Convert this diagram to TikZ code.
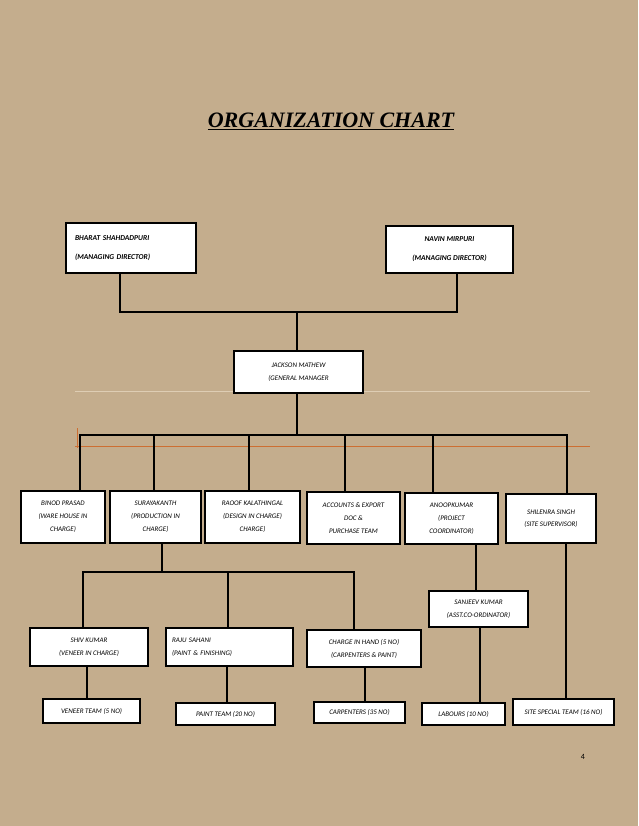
\documentclass[tikz,border=0pt]{standalone}
\usepackage{fontspec}
\setmainfont{Carlito}
\newfontfamily\titlefont{Liberation Serif}
\usepackage{tikz}
\usetikzlibrary{positioning}
\definecolor{paper}{RGB}{196,173,141}
\definecolor{rulecream}{RGB}{222,205,180}
\definecolor{ruleorange}{RGB}{205,110,50}
\tikzset{
  post/.style={draw=black,line width=2pt,fill=white,inner sep=1pt,align=center,
    font=\fontsize{7}{13}\selectfont\itshape},
  link/.style={black,line width=2.8pt}
}

\begin{document}
\begin{tikzpicture}[x=1pt,y=-1pt]
          \fill[paper] (0,0) rectangle (638,826);
          \useasboundingbox (0,0) rectangle (638,826);

          % title
          \node[font=\titlefont\fontsize{22}{22}\selectfont\bfseries\itshape] (title) at (331,121) {\underline{ORGANIZATION CHART}};

          % thin guide rules
          \draw[rulecream,line width=0.8pt] (75,391) -- (590,391);
          \draw[ruleorange,line width=0.6pt] (75,446) -- (590,446);
          \draw[ruleorange,line width=0.6pt] (77,428) -- (77,448);

          % directors
          \node[post,anchor=north west,minimum width=130,minimum height=50,align=left,text width=112,
                font=\fontsize{7.5}{19}\selectfont\bfseries\itshape] (bharat) at (65,222)
                {BHARAT SHAHDADPURI\\(MANAGING DIRECTOR)};
          \node[post,anchor=north west,minimum width=127,minimum height=47,
                font=\fontsize{7.5}{19}\selectfont\bfseries\itshape] (navin) at (385,225)
                {NAVIN MIRPURI\\(MANAGING DIRECTOR)};

          % general manager
          \node[post,anchor=north west,minimum width=129,minimum height=42] (jackson) at (233,350)
                {JACKSON MATHEW\\(GENERAL MANAGER};

          % heads
          \node[post,anchor=north west,minimum width=84,minimum height=52] (binod) at (20,490)
                {BINOD PRASAD\\(WARE HOUSE IN\\CHARGE)};
          \node[post,anchor=north west,minimum width=91,minimum height=52] (surya) at (109,490)
                {SURAYAKANTH\\(PRODUCTION IN\\CHARGE)};
          \node[post,anchor=north west,minimum width=95,minimum height=52] (raoof) at (204,490)
                {RAOOF KALATHINGAL\\(DESIGN IN CHARGE)\\CHARGE)};
          \node[post,anchor=north west,minimum width=93,minimum height=52] (accounts) at (306,491)
                {ACCOUNTS \& EXPORT\\DOC \&\\PURCHASE TEAM};
          \node[post,anchor=north west,minimum width=93,minimum height=51] (anoop) at (404,492)
                {ANOOPKUMAR\\(PROJECT\\COORDINATOR)};
          \node[post,anchor=north west,minimum width=90,minimum height=49,
                font=\fontsize{7}{12}\selectfont\itshape] (shilenra) at (505,493)
                {SHILENRA SINGH\\(SITE SUPERVISOR)};

          % second line
          \node[post,anchor=north west,minimum width=99,minimum height=36] (sanjeev) at (428,590)
                {SANJEEV KUMAR\\(ASST.CO-ORDINATOR)};
          \node[post,anchor=north west,minimum width=118,minimum height=38] (shiv) at (29,627)
                {SHIV KUMAR\\(VENEER IN CHARGE)};
          \node[post,anchor=north west,minimum width=127,minimum height=38,align=left,text width=115] (raju) at (165,627)
                {RAJU SAHANI\\(PAINT \& FINISHING)};
          \node[post,anchor=north west,minimum width=114,minimum height=37] (handcharge) at (306,629)
                {CHARGE IN HAND (5 NO)\\(CARPENTERS \& PAINT)};

          % teams
          \node[post,anchor=north west,minimum width=97,minimum height=24] (veneer) at (42,698)
                {VENEER TEAM (5 NO)};
          \node[post,anchor=north west,minimum width=99,minimum height=22] (paint) at (175,702)
                {PAINT TEAM (20 NO)};
          \node[post,anchor=north west,minimum width=91,minimum height=21] (carpenters) at (313,701)
                {CARPENTERS (35 NO)};
          \node[post,anchor=north west,minimum width=83,minimum height=22] (labours) at (421,702)
                {LABOURS (10 NO)};
          \node[post,anchor=north west,minimum width=101,minimum height=26] (siteteam) at (512,698)
                {SITE SPECIAL TEAM (16 NO)};

          % junctions
          \coordinate (topbar) at (297,312);
          \coordinate (gmbar) at (297,435);
          \coordinate (prodbar) at (162,572);

          % connectors
          \draw[link] (bharat.south -| 120,0) |- (topbar) -| (navin.south -| 457,0);
          \draw[link] (topbar) -- (jackson.north -| topbar);
          \draw[link] (jackson.south -| gmbar) -- (gmbar);
          \draw[link] (binod.north -| 80,0) |- (gmbar -| 567,0) -- (shilenra.north -| 567,0);
          \foreach \head/\xx in {surya/154,raoof/249,accounts/345,anoop/433}
            \draw[link] (\xx,435) -- (\head.north -| \xx,0);

          \draw[link] (surya.south -| prodbar) -- (prodbar);
          \draw[link] (shiv.north -| 83,0) |- (prodbar) -| (handcharge.north -| 354,0);
          \draw[link] (228,572) -- (raju.north -| 228,0);

          \draw[link] (anoop.south -| 476,0) -- (sanjeev.north -| 476,0);
          \draw[link] (sanjeev.south -| 480,0) -- (labours.north -| 480,0);
          \draw[link] (shilenra.south -| 566,0) -- (siteteam.north -| 566,0);
          \draw[link] (shiv.south -| 87,0) -- (veneer.north -| 87,0);
          \draw[link] (raju.south -| 227,0) -- (paint.north -| 227,0);
          \draw[link] (handcharge.south -| 365,0) -- (carpenters.north -| 365,0);

          % page number
          \node[font=\fontsize{8}{8}\selectfont] (pageno) at (583,757) {4};
\end{tikzpicture}
\end{document}
